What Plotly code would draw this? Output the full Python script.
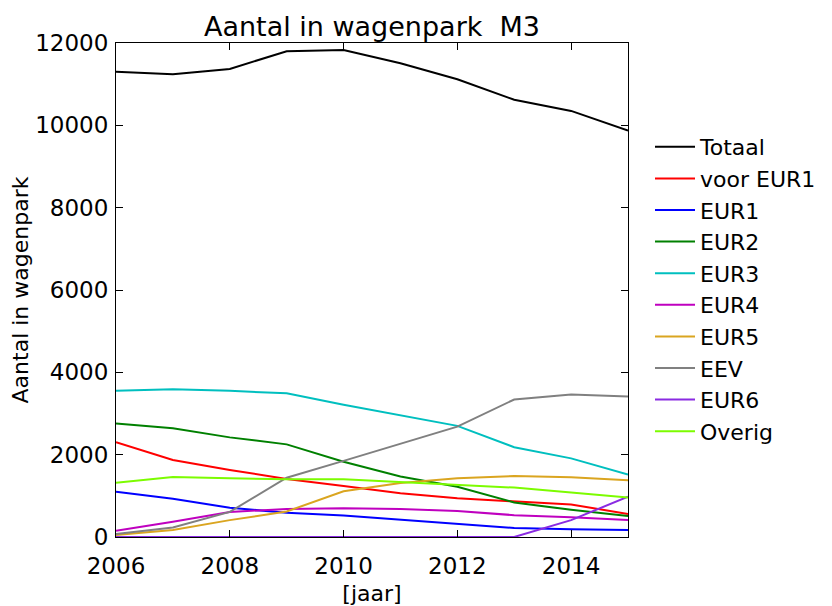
import plotly.graph_objects as go

years = [2006, 2007, 2008, 2009, 2010, 2011, 2012, 2013, 2014, 2015]

totaal    = [11300, 11240, 11370, 11800, 11830, 11510, 11120, 10620, 10350, 9870]
voor_eur1 = [2300, 1870, 1630, 1410, 1240, 1060, 940, 860, 790, 560]
eur1      = [1100, 930, 710, 590, 520, 420, 310, 220, 190, 170]
eur2      = [2760, 2640, 2420, 2250, 1830, 1470, 1220, 840, 660, 510]
eur3      = [3550, 3590, 3550, 3490, 3210, 2960, 2700, 2180, 1910, 1520]
eur4      = [150, 370, 610, 680, 700, 680, 630, 530, 480, 410]
eur5      = [50, 170, 410, 620, 1110, 1310, 1430, 1480, 1450, 1380]
eev       = [70, 230, 610, 1440, 1850, 2260, 2680, 3340, 3460, 3410]
eur6      = [0, 0, 0, 0, 0, 0, 0, 0, 410, 980]
overig    = [1320, 1460, 1430, 1400, 1400, 1330, 1260, 1200, 1080, 960]

y_ticks = [0, 2000, 4000, 6000, 8000, 10000, 12000]
x_ticks = [2006, 2008, 2010, 2012, 2014]

series = [
    ("Totaal", totaal, "#000000"),
    ("voor EUR1", voor_eur1, "#ff0000"),
    ("EUR1", eur1, "#0000ff"),
    ("EUR2", eur2, "#008000"),
    ("EUR3", eur3, "#00bfbf"),
    ("EUR4", eur4, "#bf00bf"),
    ("EUR5", eur5, "#daa520"),
    ("EEV", eev, "#808080"),
    ("EUR6", eur6, "#8a2be2"),
    ("Overig", overig, "#7cfc00"),
]

fig = go.Figure()
for name, vals, col in series:
    fig.add_trace(go.Scatter(x=years, y=vals, mode="lines", name=name,
                             line=dict(color=col, width=2), cliponaxis=False))

font = "DejaVu Sans"
fig.update_layout(
    width=832, height=606,
    margin=dict(l=116, r=204, t=43, b=69, autoexpand=False),
    paper_bgcolor="white", plot_bgcolor="white",
    font=dict(family=font, size=22, color="black"),
    title=dict(text="Aantal in wagenpark\u00a0\u00a0M3", x=(116 + 628) / 2 / 832, xanchor="center",
               y=1 - 27 / 606, yanchor="middle", font=dict(size=27)),
    showlegend=True,
    legend=dict(x=(650 - 116) / 512, xanchor="left", y=1 - (126 - 43) / 494, yanchor="top",
                font=dict(size=22), bgcolor="rgba(0,0,0,0)",
                itemwidth=40),
    xaxis=dict(range=[2006, 2015], tickvals=x_ticks,
               ticks="inside", ticklen=7, tickcolor="black", showline=True,
               linecolor="black", linewidth=1, mirror="ticks", showgrid=False,
               zeroline=False, tickfont=dict(size=23), ticklabelstandoff=8,
               automargin=False,
               title=dict(text="[jaar]", font=dict(size=22), standoff=9)),
    yaxis=dict(range=[0, 12000], tickvals=y_ticks, ticktext=[str(v) for v in y_ticks],
               ticks="inside", ticklen=7, tickcolor="black", showline=True,
               linecolor="black", linewidth=1, mirror="ticks", showgrid=False,
               zeroline=False, tickfont=dict(size=23), ticklabelstandoff=2,
               automargin=False,
               title=dict(text="Aantal in wagenpark", font=dict(size=22), standoff=0)),
)

fig.write_html("out.html", config={"displayModeBar": False},
               post_script="document.body.style.margin='0px';")
